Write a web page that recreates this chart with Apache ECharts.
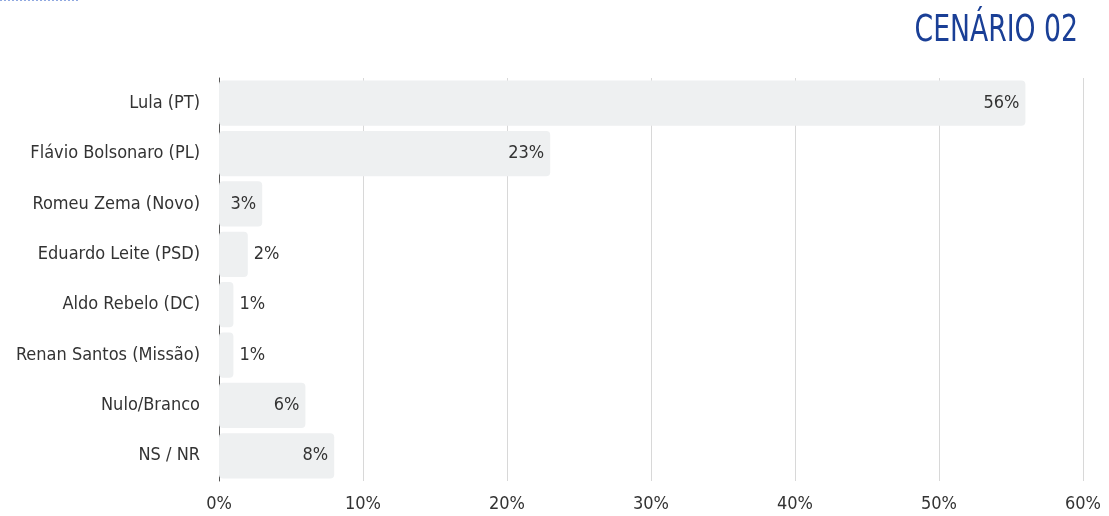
<!DOCTYPE html>
<html><head><meta charset="utf-8">
<script src="https://cdn.jsdelivr.net/npm/echarts@6/dist/echarts.min.js"></script>
<style>html,body{margin:0;padding:0;background:#fff}#c{width:1109px;height:516px}</style>
</head><body><div id="c"></div>
<script>
const categories = ["Lula (PT)","Flávio Bolsonaro (PL)","Romeu Zema (Novo)","Eduardo Leite (PSD)","Aldo Rebelo (DC)","Renan Santos (Missão)","Nulo/Branco","NS / NR"];
const values = [56,23,3,2,1,1,6,8];
const xTicks = [0,10,20,30,40,50,60];
const titleText = "CENÁRIO 02";
const FONT = "'DejaVu Sans Condensed','Liberation Sans Narrow',sans-serif";
const chart = echarts.init(document.getElementById('c'));
chart.setOption({
  animation:false,
  graphic:[
    {type:'line',shape:{x1:0,y1:0.5,x2:78,y2:0.5},style:{stroke:'#8fa8e0',lineWidth:1,lineDash:[2,2]}},
    {type:'text',x:1078,y:31,scaleX:0.78,
     style:{text:titleText,fontFamily:FONT,fontSize:38,fontWeight:'normal',fill:'#1a3f96',align:'right',verticalAlign:'middle'}}
  ],
  grid:{left:219,right:26,top:78,bottom:35},
  xAxis:{type:'value',min:0,max:60,interval:10,
    axisLine:{show:false},axisTick:{show:false},
    splitLine:{lineStyle:{color:'#d8d8d8'}},
    axisLabel:{formatter:v=>v+'%',fontFamily:FONT,fontSize:18,color:'#333',margin:14}},
  yAxis:{type:'category',data:categories,inverse:true,
    axisLine:{show:true,lineStyle:{color:'#555'}},axisTick:{show:false},
    axisLabel:{fontFamily:FONT,fontSize:18,color:'#333',margin:19}},
  series:[{type:'bar',data:values.map(v=>({value:v,label:{position:v>=3?'insideRight':'right'}})),
    barCategoryGap:'10%',
    itemStyle:{color:'#eef0f1',borderRadius:4},
    label:{show:true,formatter:p=>p.value+'%',fontFamily:FONT,fontSize:18,color:'#333',distance:6}}]
});
</script></body></html>
